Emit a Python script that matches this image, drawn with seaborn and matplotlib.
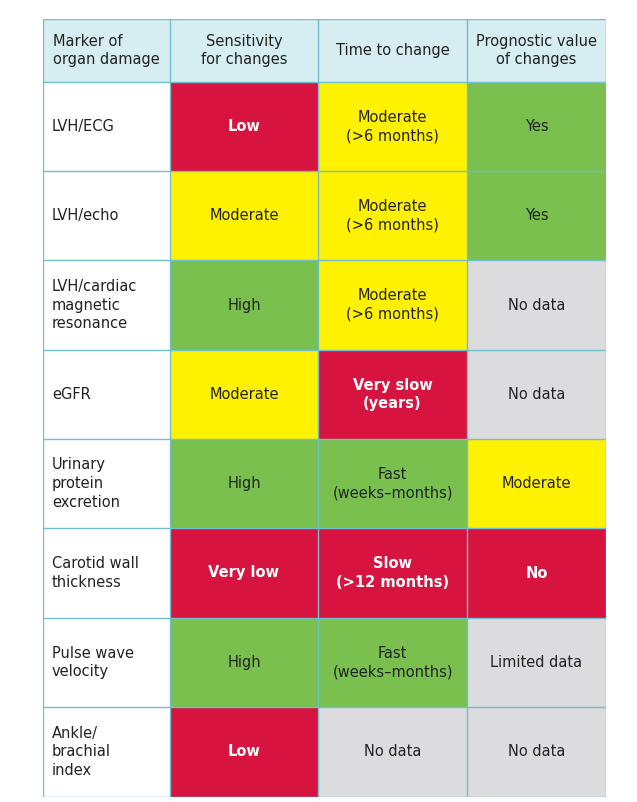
import numpy as np
import matplotlib
matplotlib.use("Agg")
import matplotlib.pyplot as plt
from matplotlib.colors import ListedColormap
import seaborn as sns

headers = ["Marker of\norgan damage", "Sensitivity\nfor changes", "Time to change", "Prognostic value\nof changes"]
markers = ["LVH/ECG", "LVH/echo", "LVH/cardiac\nmagnetic\nresonance", "eGFR", "Urinary\nprotein\nexcretion",
           "Carotid wall\nthickness", "Pulse wave\nvelocity", "Ankle/\nbrachial\nindex"]
sensitivity = ["Low", "Moderate", "High", "Moderate", "High", "Very low", "High", "Low"]
time_change = ["Moderate\n(>6 months)", "Moderate\n(>6 months)", "Moderate\n(>6 months)", "Very slow\n(years)",
               "Fast\n(weeks\u2013months)", "Slow\n(>12 months)", "Fast\n(weeks\u2013months)", "No data"]
prognostic = ["Yes", "Yes", "No data", "No data", "Moderate", "No", "Limited data", "No data"]
# colour codes: 0 white, 1 header, 2 red, 3 yellow, 4 green, 5 grey
sens_code = [2, 3, 4, 3, 4, 2, 4, 2]
time_code = [3, 3, 3, 2, 4, 2, 4, 5]
prog_code = [4, 4, 5, 5, 3, 2, 5, 5]

col_w = [127, 148, 149, 139]
row_h = [63, 89, 89, 90, 89, 89, 90, 89, 90]

colors = ["#ffffff", "#d6eef2", "#d7133f", "#fff200", "#7ac04f", "#dcdcde"]
grid = np.zeros((9, 4), dtype=int)
grid[0, :] = 1
grid[1:, 1] = sens_code
grid[1:, 2] = time_code
grid[1:, 3] = prog_code
big = np.repeat(np.repeat(grid, row_h, axis=0), col_w, axis=1)

fig = plt.figure(figsize=(6.37, 8.02), dpi=100)
ax = fig.add_axes([43/637, 1-797/802, 563/637, 778/802])
sns.heatmap(big, cmap=ListedColormap(colors), vmin=-0.5, vmax=5.5, cbar=False, ax=ax,
            xticklabels=False, yticklabels=False, rasterized=True)
xe = np.concatenate([[0], np.cumsum(col_w)])
ye = np.concatenate([[0], np.cumsum(row_h)])
lc = "#6fbfcc"
for x in xe:
    ax.plot([x, x], [0, ye[-1]], color=lc, lw=1)
for y in ye:
    ax.plot([0, xe[-1]], [y, y], color=lc, lw=1)
ax.set_xlim(0, xe[-1]); ax.set_ylim(ye[-1], 0)
ax.axis("off")

fs = 10.5
for j, h in enumerate(headers):
    yc = (ye[0] + ye[1]) / 2
    if j == 0:
        ax.text(xe[0] + 10, yc, h, ha="left", va="center", fontsize=fs, color="#222")
    else:
        ax.text((xe[j] + xe[j+1]) / 2, yc, h, ha="center", va="center", fontsize=fs, color="#222", linespacing=1.2)
for i in range(8):
    yc = (ye[i+1] + ye[i+2]) / 2
    ax.text(xe[0] + 9, yc, markers[i], ha="left", va="center", fontsize=fs, color="#222", linespacing=1.3)
    for j, (txt, code) in enumerate([(sensitivity[i], sens_code[i]), (time_change[i], time_code[i]),
                                      (prognostic[i], prog_code[i])], start=1):
        red = code == 2
        ax.text((xe[j] + xe[j+1]) / 2, yc, txt, ha="center", va="center", fontsize=fs,
                color="white" if red else "#222", fontweight="bold" if red else "normal", linespacing=1.3)

fig.savefig("out.png", dpi=100)
